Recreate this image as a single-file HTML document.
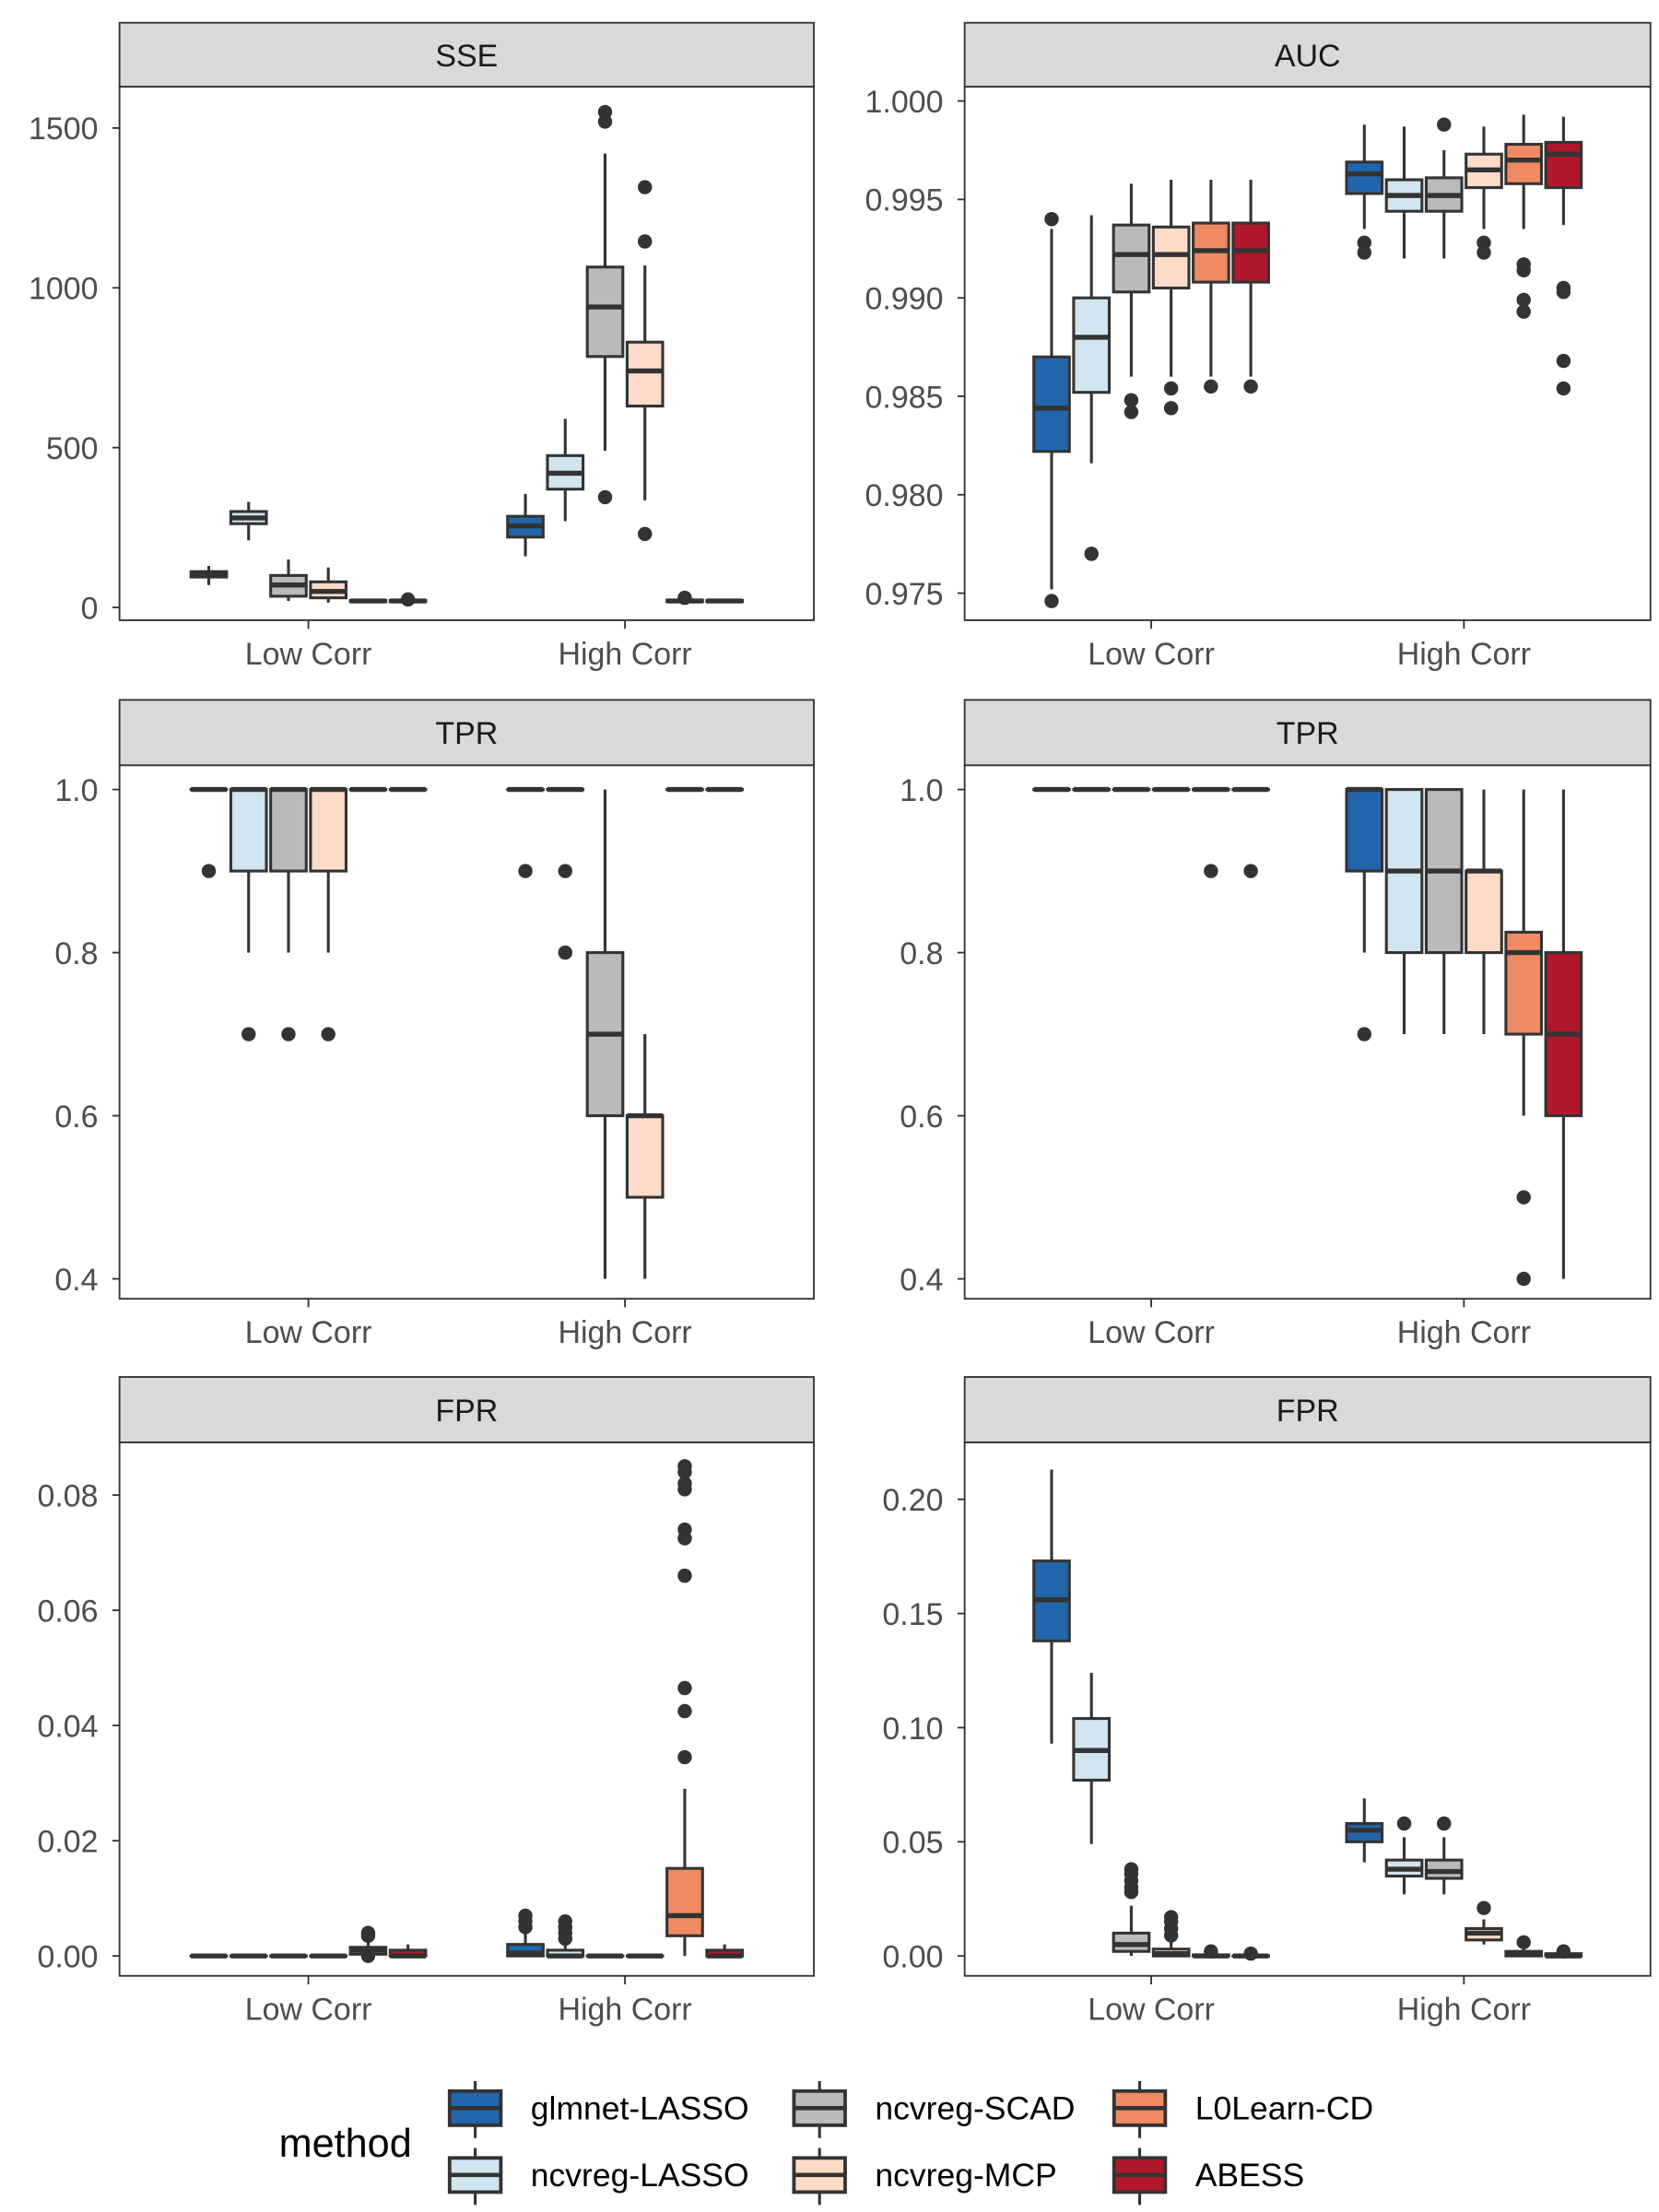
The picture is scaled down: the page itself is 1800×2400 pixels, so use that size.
<!DOCTYPE html>
<html><head><meta charset="utf-8"><style>
html,body{margin:0;padding:0;background:#fff;}
svg{display:block;font-family:"Liberation Sans",Arial,sans-serif;}
</style></head><body>
<svg id="chart" width="1800" height="2400" viewBox="0 0 1166 1555" preserveAspectRatio="none" xmlns="http://www.w3.org/2000/svg"></svg>
<script>
// ---- data ----
const methods = ["glmnet-LASSO","ncvreg-LASSO","ncvreg-SCAD","ncvreg-MCP","L0Learn-CD","ABESS"];
const colors = ["#2166ac","#d1e5f0","#bababa","#fddbc7","#ef8a62","#b2182b"];
const groups = ["Low Corr","High Corr"];
const panelTitles = ["SSE","AUC","TPR","TPR","FPR","FPR"];
const yTicksSSE = [0,500,1000,1500];
const yTicksAUC = [0.975,0.980,0.985,0.990,0.995,1.000];
const yTicksTPR = [0.4,0.6,0.8,1.0];
const yTicksFPRL = [0.00,0.02,0.04,0.06,0.08];
const yTicksFPRR = [0.00,0.05,0.10,0.15,0.20];
// each box: [lowWhisker, q1, median, q3, highWhisker, [outliers]]
const sseLow = [[70,95,103,112,130,[]],[210,262,280,300,330,[]],[20,35,70,100,150,[]],[15,30,50,80,125,[]],[15,18,20,22,25,[]],[15,18,20,22,25,[25]]];
const sseHigh = [[160,220,255,285,355,[]],[270,370,420,475,590,[]],[490,785,940,1065,1420,[345,1520,1550]],[335,630,740,830,1070,[230,1145,1315]],[15,18,20,23,28,[30]],[15,18,20,22,25,[]]];
const aucLow = [[0.9752,0.9822,0.9844,0.9870,0.9935,[0.9746,0.9940]],[0.9816,0.9852,0.9880,0.9900,0.9942,[0.9770]],[0.9860,0.9903,0.9922,0.9937,0.9958,[0.9848,0.9842]],[0.9860,0.9905,0.9922,0.9936,0.9960,[0.9854,0.9844]],[0.9860,0.9908,0.9924,0.9938,0.9960,[0.9855]],[0.9860,0.9908,0.9924,0.9938,0.9960,[0.9855]]];
const aucHigh = [[0.9935,0.9953,0.9963,0.9969,0.9988,[0.9928,0.9923]],[0.9920,0.9944,0.9952,0.9960,0.9987,[]],[0.9920,0.9944,0.9952,0.9961,0.9975,[0.9988]],[0.9935,0.9956,0.9965,0.9973,0.9987,[0.9928,0.9923]],[0.9935,0.9958,0.9970,0.9978,0.9993,[0.9917,0.9914,0.9899,0.9893]],[0.9937,0.9956,0.9973,0.9979,0.9992,[0.9905,0.9903,0.9868,0.9854]]];
const tprLLow = [[1,1,1,1,1,[0.9]],[0.8,0.9,1,1,1,[0.7]],[0.8,0.9,1,1,1,[0.7]],[0.8,0.9,1,1,1,[0.7]],[1,1,1,1,1,[]],[1,1,1,1,1,[]]];
const tprLHigh = [[1,1,1,1,1,[0.9]],[1,1,1,1,1,[0.9,0.8]],[0.4,0.6,0.7,0.8,1.0,[]],[0.4,0.5,0.6,0.6,0.7,[]],[1,1,1,1,1,[]],[1,1,1,1,1,[]]];
const tprRLow = [[1,1,1,1,1,[]],[1,1,1,1,1,[]],[1,1,1,1,1,[]],[1,1,1,1,1,[]],[1,1,1,1,1,[0.9]],[1,1,1,1,1,[0.9]]];
const tprRHigh = [[0.8,0.9,1,1,1,[0.7]],[0.7,0.8,0.9,1,1,[]],[0.7,0.8,0.9,1,1,[]],[0.7,0.8,0.9,0.9,1,[]],[0.6,0.7,0.8,0.825,1,[0.5,0.4]],[0.4,0.6,0.7,0.8,1,[]]];
const fprLLow = [[0,0,0,0,0,[]],[0,0,0,0,0,[]],[0,0,0,0,0,[]],[0,0,0,0,0,[]],[0,0.0003,0.001,0.0015,0.003,[0.004,0.0035,0]],[0,0,0,0.001,0.002,[]]];
const fprLHigh = [[0,0,0.0005,0.002,0.004,[0.005,0.006,0.007]],[0,0,0,0.001,0.002,[0.003,0.004,0.005,0.006]],[0,0,0,0,0,[]],[0,0,0,0,0,[]],[0,0.0035,0.007,0.0152,0.029,[0.0345,0.0425,0.0465,0.066,0.0725,0.074,0.081,0.082,0.084,0.085]],[0,0,0,0.001,0.002,[]]];
const fprRLow = [[0.093,0.138,0.156,0.173,0.213,[]],[0.049,0.077,0.090,0.104,0.124,[]],[0,0.002,0.005,0.010,0.022,[0.028,0.030,0.033,0.036,0.038]],[0,0,0.001,0.003,0.007,[0.009,0.012,0.015,0.017]],[0,0,0,0.0005,0.001,[0.002]],[0,0,0,0,0.001,[0.001]]];
const fprRHigh = [[0.041,0.050,0.055,0.058,0.069,[]],[0.027,0.035,0.038,0.042,0.052,[0.058]],[0.027,0.034,0.037,0.042,0.052,[0.058]],[0.005,0.007,0.010,0.012,0.016,[0.021]],[0,0,0.001,0.002,0.003,[0.006]],[0,0,0,0.001,0.002,[0.002]]];

const NS="http://www.w3.org/2000/svg";
const svg=document.getElementById('chart');
function mk(tag,attrs,parent){const e=document.createElementNS(NS,tag);for(const k in attrs)e.setAttribute(k,attrs[k]);(parent||svg).appendChild(e);return e;}

const panels=[
 {x0:84,x1:572,y0:61,y1:436,strip:16,title:panelTitles[0],ticks:yTicksSSE,v0:0,p0:427,v1:1500,p1:90,fmt:v=>String(v),data:[sseLow,sseHigh],name:'sse-panel'},
 {x0:678,x1:1160,y0:61,y1:436,strip:16,title:panelTitles[1],ticks:yTicksAUC,v0:0.975,p0:417,v1:1.0,p1:71,fmt:v=>v.toFixed(3),data:[aucLow,aucHigh],name:'auc-panel'},
 {x0:84,x1:572,y0:538,y1:913,strip:492,title:panelTitles[2],ticks:yTicksTPR,v0:0.4,p0:899,v1:1.0,p1:555,fmt:v=>v.toFixed(1),data:[tprLLow,tprLHigh],name:'tpr-left-panel'},
 {x0:678,x1:1160,y0:538,y1:913,strip:492,title:panelTitles[3],ticks:yTicksTPR,v0:0.4,p0:899,v1:1.0,p1:555,fmt:v=>v.toFixed(1),data:[tprRLow,tprRHigh],name:'tpr-right-panel'},
 {x0:84,x1:572,y0:1014,y1:1389,strip:968,title:panelTitles[4],ticks:yTicksFPRL,v0:0,p0:1375,v1:0.08,p1:1051,fmt:v=>v.toFixed(2),data:[fprLLow,fprLHigh],name:'fpr-left-panel'},
 {x0:678,x1:1160,y0:1014,y1:1389,strip:968,title:panelTitles[5],ticks:yTicksFPRR,v0:0,p0:1375,v1:0.20,p1:1054,fmt:v=>v.toFixed(2),data:[fprRLow,fprRHigh],name:'fpr-right-panel'}
];

panels.forEach((p)=>{
 const g=mk('g',{});
 
 
 const y=v=>p.p0+(v-p.v0)*(p.p1-p.p0)/(p.v1-p.v0);
 const w=p.x1-p.x0;
 const gx=i=>p.x0+w*(i===0?0.272:0.728);
 const st=mk('rect',{x:p.x0,y:p.strip,width:w,height:p.y0-p.strip,fill:'#d9d9d9',stroke:'#333',"stroke-width":1.2},g);
 
 
 const stt=mk('text',{x:p.x0+w/2,y:(p.strip+p.y0)/2+8,"text-anchor":'middle',"font-size":22,fill:'#1a1a1a'},g);
 stt.textContent=p.title;
 
 
 const bg=mk('rect',{x:p.x0,y:p.y0,width:w,height:p.y1-p.y0,fill:'#fff',stroke:'#333',"stroke-width":1.2},g);
 
 
 p.ticks.forEach(t=>{
  const yy=y(t);
  mk('line',{x1:p.x0-5,x2:p.x0,y1:yy,y2:yy,stroke:'#333',"stroke-width":1.2},g);
  const tl=mk('text',{x:p.x0-15,y:yy+8,"text-anchor":'end',"font-size":22,fill:'#4d4d4d'},g);
  tl.textContent=p.fmt(t);
  
  
 });
 groups.forEach((gn,i)=>{
  const xx=gx(i);
  mk('line',{x1:xx,x2:xx,y1:p.y1,y2:p.y1+6,stroke:'#333',"stroke-width":1.2},g);
  const tl=mk('text',{x:xx,y:p.y1+31,"text-anchor":'middle',"font-size":22,fill:'#4d4d4d'},g);
  tl.textContent=gn;
  
  
 });
 p.data.forEach((grp,gi)=>{
  grp.forEach((b,mi)=>{
   const cx=gx(gi)+(mi-2.5)*28;
   const bx=mk('g',{},g);
   
   
   mk('line',{x1:cx,x2:cx,y1:y(b[0]),y2:y(b[1]),stroke:'#333',"stroke-width":2},bx);
   mk('line',{x1:cx,x2:cx,y1:y(b[3]),y2:y(b[4]),stroke:'#333',"stroke-width":2},bx);
   const top=y(b[3]),bot=y(b[1]);
   mk('rect',{x:cx-12.5,y:top,width:25,height:Math.max(bot-top,0.1),fill:colors[mi],stroke:'#333',"stroke-width":2},bx);
   mk('line',{x1:cx-12.5,x2:cx+12.5,y1:y(b[2]),y2:y(b[2]),stroke:'#333',"stroke-width":3.5},bx);
   b[5].forEach(o=>{
    const c=mk('circle',{cx:cx,cy:y(o),r:5,fill:'#333'},bx);
    
    
   });
  });
 });
});

const lg=mk('g',{});


const lt=mk('text',{x:196,y:1516,"font-size":28,fill:'#000'},lg);
lt.textContent='method';


const keyX=[316,558,783], labX=[373,615,840], rowY=[1470,1517];
methods.forEach((m,i)=>{
 const col=Math.floor(i/2), row=i%2;
 const kx=keyX[col], ky=rowY[row];
 const e=mk('g',{},lg);
 
 
 mk('line',{x1:kx+18,x2:kx+18,y1:ky-7,y2:ky+33,stroke:'#333',"stroke-width":2},e);
 mk('rect',{x:kx,y:ky,width:36,height:24,fill:colors[i],stroke:'#333',"stroke-width":2.5},e);
 mk('line',{x1:kx,x2:kx+36,y1:ky+12,y2:ky+12,stroke:'#333',"stroke-width":3},e);
 const t=mk('text',{x:labX[col],y:ky+20,"font-size":23,fill:'#000'},e);
 t.textContent=m;
});
</script>
</body></html>
